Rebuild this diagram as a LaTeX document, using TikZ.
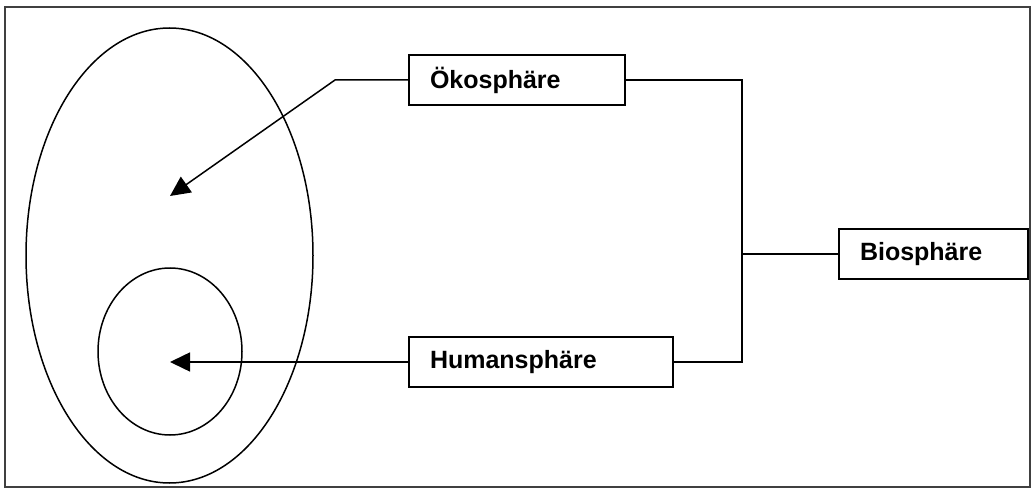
\documentclass[tikz,border=0pt]{standalone}
\usepackage{fontspec}
\setmainfont{Liberation Sans}
\usetikzlibrary{arrows.meta}
\begin{document}
\begin{tikzpicture}[x=1pt,y=-1pt,
  lbl/.style={draw=black, line width=2pt, inner xsep=21pt, inner ysep=0pt,
    minimum height=50pt, align=left, anchor=west,
    font=\fontsize{25}{29}\selectfont\bfseries},
  conn/.style={line width=1.5pt},
  arr/.style={conn, -{Triangle[length=20pt,width=19pt]}},
  ring/.style={line width=1.5pt}]
\useasboundingbox (0,0) rectangle (1036,497);
\draw[line width=1.5pt, draw=black!75] (5,7) rectangle (1030,487);
% spheres
\draw[ring] (169.5,255.5) ellipse [x radius=143.5pt, y radius=227.5pt];
\draw[ring] (170,351.5) ellipse [x radius=72pt, y radius=83.5pt];
% labels
\node[lbl, text width=174pt] (oeko) at (408,80) {Ökosphäre};
\node[lbl, text width=222pt] (human) at (408,362) {Humansphäre};
\node[lbl, text width=147pt] (bio) at (838,254) {Biosphäre};
% connector points
\coordinate (bend) at (335,80);
\coordinate (oekoTip) at (170,196);
\coordinate (humTip) at (170,362);
\coordinate (bus) at (742,254);
% connectors
\draw[arr] (oeko.west) -- (bend) -- (oekoTip);
\draw[arr] (human.west) -- (humTip);
\draw[conn] (oeko.east) -| (bus) |- (human.east);
\draw[conn] (bio.west) -- (bus);
\end{tikzpicture}
\end{document}
